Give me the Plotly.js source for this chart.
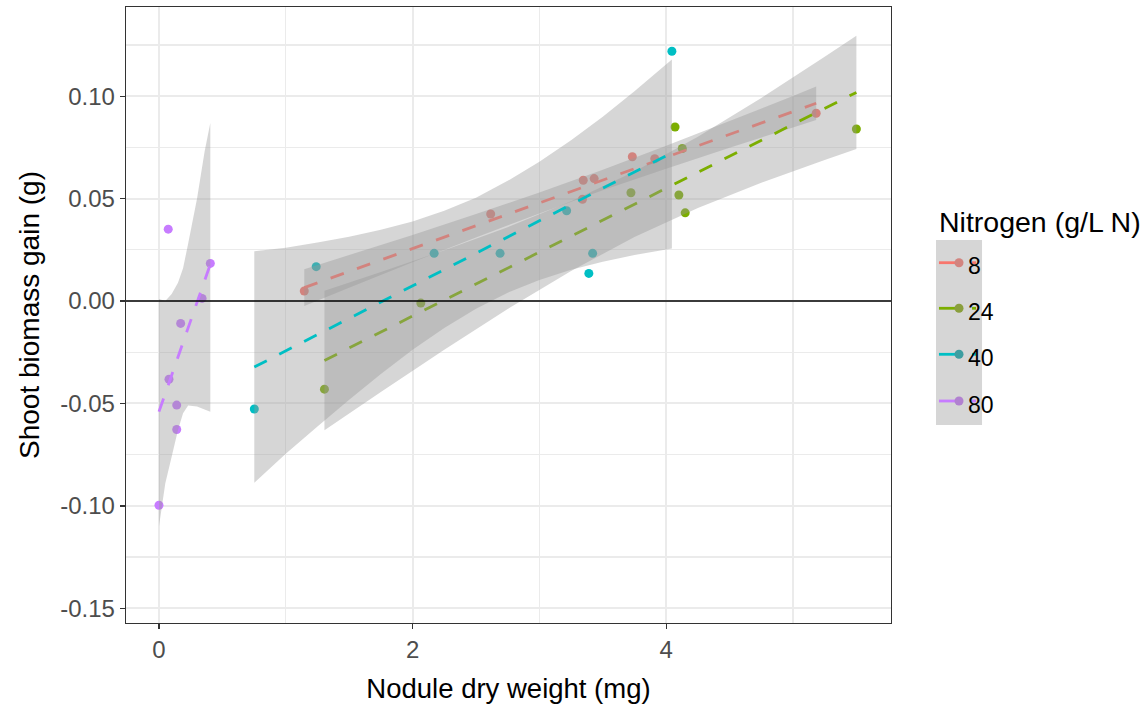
<!DOCTYPE html>
<html>
<head>
<meta charset="utf-8">
<script src="https://cdn.plot.ly/plotly-3.0.1.min.js"></script>
<style>
  html, body { margin: 0; padding: 0; background: #ffffff; }
  #chart { width: 1147px; height: 709px; }
</style>
</head>
<body>
<div id="chart"></div>
<script>
// Nitrogen levels (g/L N) and their ggplot-style hue colours
const levels = ['8', '24', '40', '80'];
const colors = ['#F8766D', '#7CAE00', '#00BFC4', '#C77CFF'];
const keyPointColors = ['#d2847f', '#8a9f3d', '#3d9ea1', '#b181d0'];

// Observations: nodule dry weight (mg) vs shoot biomass gain (g)
const n8_x  = [1.146, 2.616, 3.346, 3.432, 3.340, 3.733, 3.910, 5.183];
const n8_y  = [0.0049, 0.0425, 0.0590, 0.0598, 0.0497, 0.0705, 0.0695, 0.0917];
const n24_x = [1.305, 2.065, 3.722, 4.070, 4.127, 4.100, 4.150, 5.500];
const n24_y = [-0.0430, -0.0010, 0.0529, 0.0850, 0.0745, 0.0518, 0.0431, 0.0840];
const n40_x = [0.752, 1.240, 2.170, 2.690, 3.215, 3.420, 3.390, 4.045];
const n40_y = [-0.0527, 0.0168, 0.0233, 0.0233, 0.0441, 0.0233, 0.0135, 0.1220];
const n80_x = [0.073, 0.405, 0.340, 0.171, 0.079, 0.140, 0.140, 0.000];
const n80_y = [0.0351, 0.0184, 0.0013, -0.0109, -0.0382, -0.0508, -0.0627, -0.0997];

// Linear fits (end points of each fitted line)
const fit8_x  = [1.146, 5.183];  const fit8_y  = [0.0066, 0.0966];
const fit24_x = [1.305, 5.500];  const fit24_y = [-0.0290, 0.1019];
const fit40_x = [0.752, 4.045];  const fit40_y = [-0.0322, 0.0724];
const fit80_x = [0.000, 0.405];  const fit80_y = [-0.0540, 0.0180];

// Confidence bands around each fit
const band8_x  = [1.146, 1.5, 2.0, 2.5, 3.0, 3.5, 4.0, 4.5, 5.0, 5.183];
const band8_lo = [-0.0024, 0.0065, 0.0189, 0.0311, 0.0428, 0.0541, 0.0646, 0.0749, 0.0848, 0.0884];
const band8_hi = [0.0156, 0.0225, 0.0323, 0.0425, 0.0530, 0.0641, 0.0758, 0.0879, 0.1002, 0.1048];

const band24_x  = [1.305, 1.75, 2.25, 2.75, 3.25, 3.75, 4.25, 4.75, 5.25, 5.50];
const band24_lo = [-0.0631, -0.0444, -0.0238, -0.0039, 0.0147, 0.0313, 0.0455, 0.0578, 0.0689, 0.0742];
const band24_hi = [0.0051, 0.0142, 0.0248, 0.0361, 0.0487, 0.0633, 0.0803, 0.0992, 0.1193, 0.1296];

const band40_x  = [0.752, 1.0, 1.25, 1.5, 1.75, 2.0, 2.25, 2.5, 2.75, 3.0, 3.25, 3.5, 3.75, 4.045];
const band40_lo = [-0.0887, -0.0746, -0.0612, -0.0482, -0.0356, -0.0238, -0.0131, -0.0037, 0.0041, 0.0103, 0.0153, 0.0192, 0.0225, 0.0257];
const band40_hi = [0.0243, 0.0260, 0.0286, 0.0314, 0.0348, 0.0388, 0.0441, 0.0505, 0.0587, 0.0680, 0.0785, 0.0900, 0.1025, 0.1180];

const band80_x  = [0.000, 0.05, 0.10, 0.15, 0.19, 0.23, 0.30, 0.36, 0.405];
const band80_lo = [-0.1100, -0.0890, -0.0760, -0.0630, -0.0548, -0.0510, -0.0515, -0.0530, -0.0540];
const band80_hi = [0.0010, 0.0000, 0.0034, 0.0090, 0.0160, 0.0280, 0.0500, 0.0730, 0.0870];

// Axis ticks
const xTickVals = [0, 2, 4];
const xTickText = ['0', '2', '4'];
const yTickVals = [-0.15, -0.10, -0.05, 0.00, 0.05, 0.10];
const yTickText = ['-0.15', '-0.10', '-0.05', '0.00', '0.05', '0.10'];

const pointsX = [n8_x, n24_x, n40_x, n80_x];
const pointsY = [n8_y, n24_y, n40_y, n80_y];
const fitsX = [fit8_x, fit24_x, fit40_x, fit80_x];
const fitsY = [fit8_y, fit24_y, fit40_y, fit80_y];
const bandsX = [band8_x, band24_x, band40_x, band80_x];
const bandsLo = [band8_lo, band24_lo, band40_lo, band80_lo];
const bandsHi = [band8_hi, band24_hi, band40_hi, band80_hi];

const FONT = 'Liberation Sans, Arial, sans-serif';
const traces = [];

// points first, so the bands tint them
levels.forEach((lv, i) => {
  traces.push({
    type: 'scatter', mode: 'markers', x: pointsX[i], y: pointsY[i],
    marker: { color: colors[i], size: 9, line: { width: 0 } },
    hoverinfo: 'skip', showlegend: false
  });
});

// band + dashed fit per group, in group order
levels.forEach((lv, i) => {
  const bx = bandsX[i].concat(bandsX[i].slice().reverse());
  const by = bandsHi[i].concat(bandsLo[i].slice().reverse());
  traces.push({
    type: 'scatter', mode: 'none', x: bx, y: by,
    fill: 'toself', fillcolor: 'rgba(153,153,153,0.4)',
    hoverinfo: 'skip', showlegend: false
  });
  traces.push({
    type: 'scatter', mode: 'lines', x: fitsX[i], y: fitsY[i],
    line: { color: colors[i], width: 2.8, dash: '14px,14px' },
    hoverinfo: 'skip', showlegend: false
  });
});

// hand-built legend (paper coordinates)
const shapes = [
  { type: 'line', xref: 'paper', yref: 'y', x0: 0, x1: 1, y0: 0, y1: 0,
    line: { color: '#000000', width: 1.6 }, layer: 'above' },
  { type: 'rect', xref: 'paper', yref: 'paper', x0: 1.0588, x1: 1.1190, y0: 0.3214, y1: 0.6218,
    fillcolor: '#d6d6d6', line: { width: 0 }, layer: 'above' }
];
const annotations = [
  { xref: 'paper', yref: 'paper', x: 1.0601, y: 0.651, xanchor: 'left', yanchor: 'middle',
    text: 'Nitrogen (g/L N)', showarrow: false, font: { family: FONT, size: 28.5, color: '#000000' } }
];
const rowY = [0.5849, 0.5109, 0.4362, 0.3604];
levels.forEach((lv, i) => {
  shapes.push({ type: 'line', xref: 'paper', yref: 'paper', x0: 1.0627, x1: 1.0941, y0: rowY[i], y1: rowY[i],
    line: { color: colors[i], width: 2.8 }, layer: 'above' });
  shapes.push({ type: 'line', xref: 'paper', yref: 'paper', x0: 1.1059, x1: 1.1111, y0: rowY[i], y1: rowY[i],
    line: { color: colors[i], width: 2.8 }, layer: 'above' });
  shapes.push({ type: 'circle', xref: 'paper', yref: 'paper', xsizemode: 'pixel', ysizemode: 'pixel',
    xanchor: 1.0889, yanchor: rowY[i], x0: -4.5, x1: 4.5, y0: -4.5, y1: 4.5,
    fillcolor: keyPointColors[i], line: { width: 0 }, layer: 'above' });
  annotations.push({ xref: 'paper', yref: 'paper', x: 1.098, y: rowY[i] - 0.006, xanchor: 'left', yanchor: 'middle',
    text: lv, showarrow: false, font: { family: FONT, size: 23, color: '#000000' } });
});

const axisCommon = {
  showline: true, mirror: true, linecolor: '#333333', linewidth: 1.3,
  ticks: 'outside', ticklen: 5, tickwidth: 1.3, tickcolor: '#333333',
  tickfont: { family: FONT, size: 24, color: '#4d4d4d' },
  showgrid: true, gridcolor: '#ebebeb', gridwidth: 2, zeroline: false,
  automargin: false
};

const layout = {
  width: 1147, height: 709,
  margin: { l: 126, r: 256, t: 7, b: 86 },
  paper_bgcolor: '#ffffff', plot_bgcolor: '#ffffff',
  showlegend: false,
  xaxis: Object.assign({}, axisCommon, {
    range: [-0.26, 5.773], tickmode: 'array', tickvals: xTickVals, ticktext: xTickText,
    minor: { tickmode: 'linear', tick0: 1, dtick: 2, showgrid: true, gridcolor: '#ebebeb', gridwidth: 1.2, ticks: '' },
    title: { text: 'Nodule dry weight (mg)', font: { family: FONT, size: 27.5, color: '#000000' }, standoff: 16 }
  }),
  yaxis: Object.assign({}, axisCommon, {
    range: [-0.1572, 0.1436], tickmode: 'array', tickvals: yTickVals, ticktext: yTickText,
    minor: { tickmode: 'linear', tick0: 0.025, dtick: 0.05, showgrid: true, gridcolor: '#ebebeb', gridwidth: 1.2, ticks: '' },
    title: { text: 'Shoot biomass gain (g)', font: { family: FONT, size: 28, color: '#000000' }, standoff: 12 }
  }),
  shapes: shapes,
  annotations: annotations
};

Plotly.newPlot('chart', traces, layout, { displayModeBar: false, staticPlot: true });
</script>
</body>
</html>
